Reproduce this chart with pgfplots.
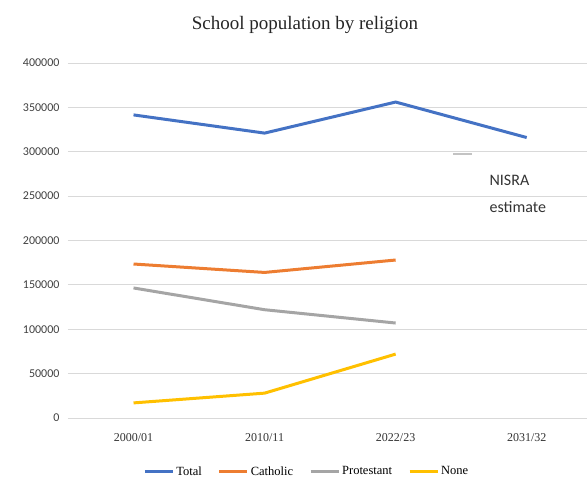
\documentclass[border=0pt]{standalone}
\usepackage{pgfplots}
\pgfplotsset{compat=1.18}
\usepackage{fontspec}
\setmainfont{Liberation Serif}
\newfontfamily\carlito{Carlito}
\definecolor{cTotal}{HTML}{4472C4}
\definecolor{cCath}{HTML}{ED7D31}
\definecolor{cProt}{HTML}{A5A5A5}
\definecolor{cNone}{HTML}{FFC000}
\definecolor{gridc}{HTML}{D9D9D9}
\begin{document}
\begin{tikzpicture}[x=1pt,y=1pt]
\begin{axis}[
  at={(68pt,68pt)}, anchor=south west,
  scale only axis, width=519pt, height=355pt,
  xmin=-0.5, xmax=3.46, ymin=0, ymax=400000,
  xtick={0,1,2,3}, xticklabels={2000/01,2010/11,2022/23,2031/32},
  ytick={0,50000,...,400000},
  scaled y ticks=false,
  /pgf/number format/.cd, fixed, 1000 sep={}, assume math mode=true, /pgfplots/.cd,
  yticklabel style={font=\carlito\fontsize{12}{13}\selectfont, xshift=-5pt, text=black!75},
  xticklabel style={font=\fontsize{12}{13}\selectfont, yshift=-12pt, text=black!80},
  ymajorgrids, grid style={gridc, line width=0.8pt},
  axis line style={draw=none},
  major tick length=0pt,
  legend style={at={(0.46,-0.125)}, anchor=north, draw=none, font=\fontsize{12.5}{13}\selectfont, legend columns=4, /tikz/every even column/.append style={column sep=14pt}},
  legend image code/.code={\draw[#1, line width=3pt] (0pt,0pt) -- (28pt,0pt);},
  legend cell align=left,
  clip=false,
]
\addplot[cTotal, line width=3pt] coordinates {(0,341500) (1,321000) (2,356000) (3,316000)};
\addlegendentry{Total}
\addplot[cCath, line width=3pt] coordinates {(0,173500) (1,164000) (2,178000)};
\addlegendentry{Catholic}
\addplot[cProt, line width=3pt] coordinates {(0,146500) (1,122000) (2,107000)};
\addlegendentry{Protestant}
\addplot[cNone, line width=3pt] coordinates {(0,17000) (1,28000) (2,72000)};
\addlegendentry{None}
\addplot[gridc!90!black, line width=2pt, forget plot] coordinates {(2.44,297000) (2.58,297000)};
\node[anchor=west, align=left, font=\carlito\fontsize{16}{27}\selectfont, text=black!80] at (axis cs:2.69,252000) {NISRA\\estimate};
\end{axis}
\node[font=\fontsize{19}{21}\selectfont, text=black!85] at (305pt,461pt) {School population by religion};
\pgfresetboundingbox
\path (0,0) rectangle (587pt,486pt);
\end{tikzpicture}
\end{document}
